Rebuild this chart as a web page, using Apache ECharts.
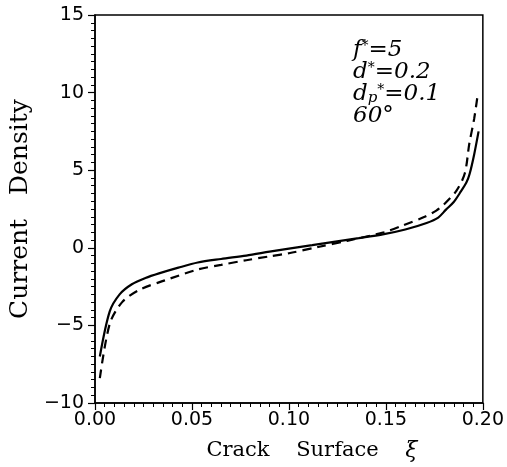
<!DOCTYPE html>
<html><head><meta charset="utf-8">
<script src="https://cdn.jsdelivr.net/npm/echarts@6/dist/echarts.min.js"></script>
<style>html,body{margin:0;padding:0;background:#fff}#c{width:507px;height:467px}</style>
</head><body><div id="c"></div>
<script>
const xTicks = [0, 0.05, 0.10, 0.15, 0.20];
const yTicks = [-10, -5, 0, 5, 10, 15];
const solidX = [0.0025,0.0076,0.0127,0.019,0.026,0.033,0.043,0.053,0.065,0.078,0.09,0.10,0.112,0.124,0.136,0.149,0.16,0.171,0.177,0.181,0.185,0.188,0.1915,0.1932,0.1955,0.1978];
const solidY = [-7.0,-4.1,-3.0,-2.35,-1.95,-1.65,-1.28,-0.95,-0.72,-0.5,-0.25,-0.05,0.17,0.4,0.62,0.88,1.18,1.6,1.95,2.46,2.95,3.5,4.2,4.77,6.0,7.5];
const dashX = [0.0025,0.0076,0.014,0.023,0.036,0.053,0.065,0.078,0.09,0.10,0.115,0.13,0.149,0.158,0.170,0.176,0.18,0.1865,0.1907,0.193,0.1955,0.1975];
const dashY = [-8.4,-4.9,-3.5,-2.7,-2.1,-1.4,-1.1,-0.8,-0.55,-0.35,0.05,0.45,1.0,1.4,2.0,2.4,2.8,3.7,4.8,6.7,8.3,10.0];
const xTitle = 'Crack    Surface    {i|ξ}';
const yTitle = 'Current   Density';

const chart = echarts.init(document.getElementById('c'));
const fmt = v => String(v).replace('-', '−');
chart.setOption({
  animation: false,
  grid: {left: 95, top: 15, width: 395, height: 395, show: true, borderColor: '#000', borderWidth: 1.5, backgroundColor: 'transparent'},
  xAxis: {
    type: 'value', min: 0, max: 0.2, interval: 0.05,
    axisLine: {show: true, onZero: false, lineStyle: {color: '#000', width: 1.5}},
    axisTick: {show: true, inside: false, length: 7, lineStyle: {color: '#000', width: 1.2}},
    minorTick: {show: true, splitNumber: 10, length: 4, lineStyle: {color: '#000', width: 1}},
    splitLine: {show: false},
    axisLabel: {color: '#000', fontFamily: 'DejaVu Sans', fontSize: 19, margin: 8, formatter: v => v.toFixed(2)},
    name: xTitle, nameLocation: 'middle', nameGap: 37,
    nameTextStyle: {color: '#000', fontFamily: 'DejaVu Serif', fontSize: 21, padding: [0, 0, 0, 46],
      rich: {i: {fontFamily: 'DejaVu Serif', fontStyle: 'italic', fontSize: 22, color: '#000'}}}
  },
  yAxis: {
    type: 'value', min: -10, max: 15, interval: 5,
    axisLine: {show: true, onZero: false, lineStyle: {color: '#000', width: 1.5}},
    axisTick: {show: true, inside: false, length: 7, lineStyle: {color: '#000', width: 1.2}},
    minorTick: {show: true, splitNumber: 10, length: 4, lineStyle: {color: '#000', width: 1}},
    splitLine: {show: false},
    axisLabel: {color: '#000', fontFamily: 'DejaVu Sans', fontSize: 19, margin: 11, formatter: fmt},
    name: yTitle, nameLocation: 'middle', nameGap: 62,
    nameTextStyle: {color: '#000', fontFamily: 'DejaVu Serif', fontSize: 25}
  },
  series: [
    {type: 'line', data: solidX.map((x, i) => [x, solidY[i]]), showSymbol: false, smooth: 0.3,
     lineStyle: {color: '#000', width: 2.2, type: 'solid'}},
    {type: 'line', data: dashX.map((x, i) => [x, dashY[i]]), showSymbol: false, smooth: 0.3,
     lineStyle: {color: '#000', width: 2.2, type: [9, 6]}}
  ],
  graphic: [{
    type: 'text', left: 353, top: 39,
    style: {
      text: '{v|f}{s|*}{v|=5}\n{v|d}{s|*}{v|=0.2}\n{v|d}{sub|p}{s|*}{v|=0.1}\n{v|60°}',
      fill: '#000',
      rich: {
        v: {fontFamily: 'DejaVu Serif', fontStyle: 'italic', fontSize: 23, lineHeight: 22, fill: '#000'},
        s: {fontFamily: 'DejaVu Serif', fontSize: 14, verticalAlign: 'top', lineHeight: 22, fill: '#000'},
        sub: {fontFamily: 'DejaVu Serif', fontStyle: 'italic', fontSize: 15, verticalAlign: 'bottom', lineHeight: 22, fill: '#000'}
      }
    }
  }]
});
</script></body></html>
